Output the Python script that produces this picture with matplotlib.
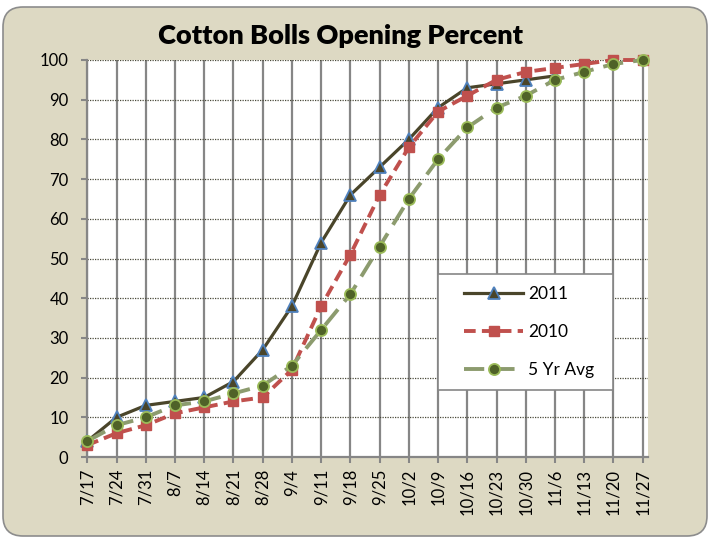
import matplotlib
matplotlib.use('Agg')
import matplotlib.pyplot as plt
from matplotlib.patches import FancyBboxPatch, Rectangle
from matplotlib.transforms import IdentityTransform

plt.rcParams['font.family'] = ['Lato', 'DejaVu Sans']

# weekly dates
dates = ['7/17', '7/24', '7/31', '8/7', '8/14', '8/21', '8/28', '9/4', '9/11', '9/18',
         '9/25', '10/2', '10/9', '10/16', '10/23', '10/30', '11/6', '11/13', '11/20', '11/27']

# percent of cotton bolls opened
y2011 = [4, 10, 13, 14, 15, 19, 27, 38, 54, 66, 73, 80, 88, 93, 94, 95, 96]
y2010 = [3, 6, 8, 11, 12.5, 14, 15, 22, 38, 51, 66, 78, 87, 91, 95, 97, 98, 99, 100, 100]
y5yr = [4, 8, 10, 13, 14, 16, 18, 23, 32, 41, 53, 65, 75, 83, 88, 91, 95, 97, 99, 100]

W, H = 709, 537
fig = plt.figure(figsize=(W / 100, H / 100), dpi=100)
fig.patch.set_facecolor('white')

# beige rounded chart area
bg = FancyBboxPatch((3, 1), 704, 529, boxstyle='round,pad=0,rounding_size=20',
                    transform=IdentityTransform(), facecolor='#DDD9C3',
                    edgecolor='#8C8C8C', lw=1.2, zorder=-1)
fig.add_artist(bg)

left, right, top, bottom = 87.3, 647.5, 60, 457
ax = fig.add_axes([left / W, (H - bottom) / H, (right - left) / W, (bottom - top) / H])
ax.set_facecolor('white')

x = list(range(len(dates)))
l1, = ax.plot(x[:len(y2011)], y2011, color='#4A452A', lw=2.3, marker='^', ms=9,
              mfc='#4A452A', mec='#4F81BD', mew=1.3, clip_on=False, zorder=3, label='2011')
l2, = ax.plot(x[:len(y2010)], y2010, color='#C0504D', lw=2.8, ls=(0, (3.0, 1.6)),
              marker='s', ms=7.5, mfc='#C0504D', mec='#C0504D', clip_on=False, zorder=4,
              label='2010')
l3, = ax.plot(x[:len(y5yr)], y5yr, color='#8C9B6E', lw=2.8, ls=(0, (5.2, 2.6)),
              marker='o', ms=8, mfc='#4F6228', mec='#9BBB59', mew=1.3, clip_on=False,
              zorder=5, label='5 Yr Avg')

ax.set_xlim(0, (right - left) / 29.23)
ax.set_ylim(0, 100)
ax.set_xticks(x)
ax.set_xticklabels(dates, rotation=90, fontsize=12)
ax.set_yticks(range(0, 101, 10))
ax.tick_params(axis='y', length=4, width=1.5, color='#868686', pad=9.5, labelsize=12)
ax.tick_params(axis='x', length=4, width=1.5, color='#868686', pad=4.5)

ax.set_axisbelow(True)
ax.xaxis.grid(True, color='#868686', lw=1.6)
ax.yaxis.grid(True, color='#4A4A3A', lw=0.9, ls=(0, (1, 1)))
for s in ['top', 'right']:
    ax.spines[s].set_visible(False)
for s in ['left', 'bottom']:
    ax.spines[s].set_color('#868686')
    ax.spines[s].set_linewidth(1.6)

fig.text(340 / W, 1 - 36 / H, 'Cotton Bolls Opening Percent', ha='center', va='center',
         fontsize=19.5, fontweight='heavy')

# legend box
frame = Rectangle((438, H - 390), 175, 116, transform=IdentityTransform(),
                  facecolor='white', edgecolor='#868686', lw=1.2, zorder=4)
fig.add_artist(frame)
leg = fig.legend(handles=[l1, l2, l3], loc='center left', bbox_to_anchor=(464 / W, 1 - 332 / H),
                 frameon=False, fontsize=12.5, handlelength=3.4, handletextpad=0.3,
                 labelspacing=1.25, borderpad=0, borderaxespad=0)
leg.set_zorder(6)

fig.savefig('out.png', dpi=100)
